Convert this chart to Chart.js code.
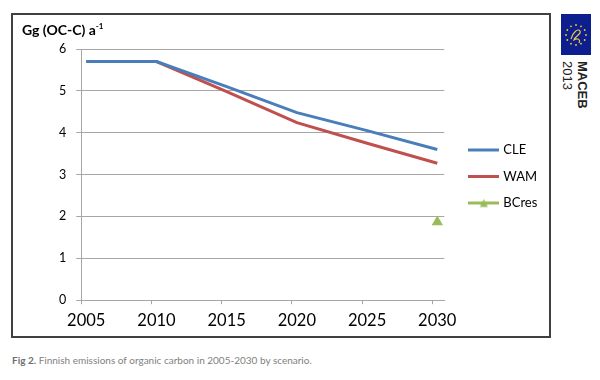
<!DOCTYPE html>
<html>
<head>
<meta charset="utf-8">
<script src="https://cdn.jsdelivr.net/npm/chart.js@4.4.0/dist/chart.umd.min.js"></script>
<style>
  body { margin: 0; width: 600px; height: 380px; background: #fff; position: relative; overflow: hidden; font-family: Lato, sans-serif; }
  #frame { position: absolute; left: 11px; top: 13px; width: 536px; height: 321px; border: 2px solid #404040; }
  #chart { position: absolute; left: 0; top: 0; }
  #ytitle { position: absolute; left: 22px; top: 21px; font-weight: bold; font-size: 14px; color: #000; }
  #ytitle sup { font-size: 8px; }
  #caption { position: absolute; left: 12px; top: 354px; font-size: 10px; color: #7f7f7f; }
  #caption b { color: #6f6f6f; }
  #logo { position: absolute; left: 561px; top: 14px; }
  #maceb { position: absolute; left: 560px; top: 61px; writing-mode: vertical-rl; font-family: "Liberation Sans", Arial, sans-serif; font-size: 13px; line-height: 15px; color: #222; }
</style>
</head>
<body>
<div id="frame"><canvas id="chart" width="536" height="321"></canvas></div>
<div id="ytitle">Gg (OC-C) a<sup>-1</sup></div>
<div id="caption"><b>Fig 2.</b> Finnish emissions of organic carbon in 2005-2030 by scenario.</div>
<svg id="logo" width="30" height="41" viewBox="0 0 30 41">
  <rect x="0" y="0" width="30" height="41" fill="#0d1f8f"/>
  <g fill="#f2d21b" id="stars"></g>
  <path d="M10 25 C12 18, 17 14, 19 17 C21 20, 14 22, 13 26 C16 24, 20 25, 18 29" stroke="#e8c84a" stroke-width="1.2" fill="none"/>
</svg>
<div id="maceb"><b>MACEB</b><br>2013</div>
<script>
// Data
const years     = [2005, 2010, 2015, 2020, 2025, 2030];
const cleValues = [5.7, 5.7, 5.1, 4.48, 4.05, 3.6];
const wamValues = [5.7, 5.7, 4.98, 4.24, 3.75, 3.27];
const bcresYears  = [2030];
const bcresValues = [1.87];
const xTickLabels = ['2005', '2010', '2015', '2020', '2025', '2030'];
const yTicks      = [0, 1, 2, 3, 4, 5, 6];

const CLE_COLOR = '#4a7ebb';
const WAM_COLOR = '#c0504d';
const BC_COLOR  = '#9bbb59';
const GRID      = '#a6a6a6';

// stars on the little logo
(function () {
    const g = document.getElementById('stars');
    for (let i = 0; i < 12; i++) {
        const a = i / 12 * Math.PI * 2;
        const c = document.createElementNS('http://www.w3.org/2000/svg', 'circle');
        c.setAttribute('cx', 15 + Math.cos(a) * 10);
        c.setAttribute('cy', 21 + Math.sin(a) * 10);
        c.setAttribute('r', 0.9);
        g.appendChild(c);
    }
})();

function legendSwatch(color, triangle) {
    const c = document.createElement('canvas');
    c.width = 31; c.height = 11;
    const ctx = c.getContext('2d');
    ctx.strokeStyle = color;
    ctx.lineWidth = 3;
    ctx.beginPath();
    ctx.moveTo(0, 5.5); ctx.lineTo(31, 5.5);
    ctx.stroke();
    if (triangle) {
        ctx.fillStyle = color;
        ctx.beginPath();
        ctx.moveTo(15.5, 1.5); ctx.lineTo(19.5, 9.5); ctx.lineTo(11.5, 9.5);
        ctx.closePath();
        ctx.fill();
    }
    return c;
}

// nudge the legend block up a little, like the Excel original
const legendNudge = {
    id: 'legendNudge',
    afterLayout(chart) {
        chart.legend.top -= 17;
        chart.legend.bottom -= 17;
    }
};

const xMin = 2004.64;
const xMax = 2030.5;

new Chart(document.getElementById('chart'), {
    type: 'line',
    data: {
        datasets: [
            {
                label: 'CLE',
                data: years.map((y, i) => ({ x: y, y: cleValues[i] })),
                borderColor: CLE_COLOR,
                borderWidth: 3,
                pointRadius: 0,
                tension: 0
            },
            {
                label: 'WAM',
                data: years.map((y, i) => ({ x: y, y: wamValues[i] })),
                borderColor: WAM_COLOR,
                borderWidth: 3,
                pointRadius: 0,
                tension: 0
            },
            {
                label: 'BCres',
                data: bcresYears.map((y, i) => ({ x: y, y: bcresValues[i] })),
                borderColor: BC_COLOR,
                backgroundColor: BC_COLOR,
                showLine: false,
                pointStyle: 'triangle',
                pointRadius: 6.5,
                pointBorderWidth: 0
            }
        ]
    },
    plugins: [legendNudge],
    options: {
        responsive: false,
        animation: false,
        layout: { padding: { left: 36, top: 34, right: 10, bottom: -2 } },
        plugins: {
            title: { display: false },
            tooltip: { enabled: false },
            legend: {
                position: 'right',
                labels: {
                    usePointStyle: true,
                    pointStyleWidth: 26,
                    padding: 13.5,
                    color: '#000',
                    font: { family: 'Lato', size: 13 },
                    generateLabels: chart => chart.data.datasets.map((ds, i) => ({
                        text: ds.label,
                        datasetIndex: i,
                        pointStyle: legendSwatch(ds.borderColor, i === 2),
                        fontColor: '#000',
                        lineWidth: 0,
                        hidden: false
                    }))
                }
            }
        },
        scales: {
            x: {
                type: 'linear',
                min: xMin,
                max: xMax,
                afterBuildTicks: axis => {
                    axis.ticks = xTickLabels.map((_, i) => ({ value: xMin + i * 5 }));
                },
                ticks: {
                    callback: (v, i) => xTickLabels[i],
                    labelOffset: 5,
                    padding: 7,
                    color: '#000',
                    maxRotation: 0,
                    font: { family: 'Lato', size: 16.5 }
                },
                grid: { drawOnChartArea: false, tickLength: 4, color: GRID },
                border: { color: GRID }
            },
            y: {
                min: 0,
                max: 6,
                afterBuildTicks: axis => {
                    axis.ticks = yTicks.map(v => ({ value: v }));
                },
                ticks: {
                    padding: 10,
                    color: '#000',
                    font: { family: 'Lato', size: 12.5 }
                },
                grid: { color: GRID, tickLength: 5 },
                border: { color: GRID }
            },
            pad: {
                type: 'linear',
                position: 'right',
                display: true,
                grid: { display: false },
                ticks: { display: false },
                border: { display: false },
                afterFit: s => { s.width = 13; }
            }
        }
    }
});
</script>
</body>
</html>
